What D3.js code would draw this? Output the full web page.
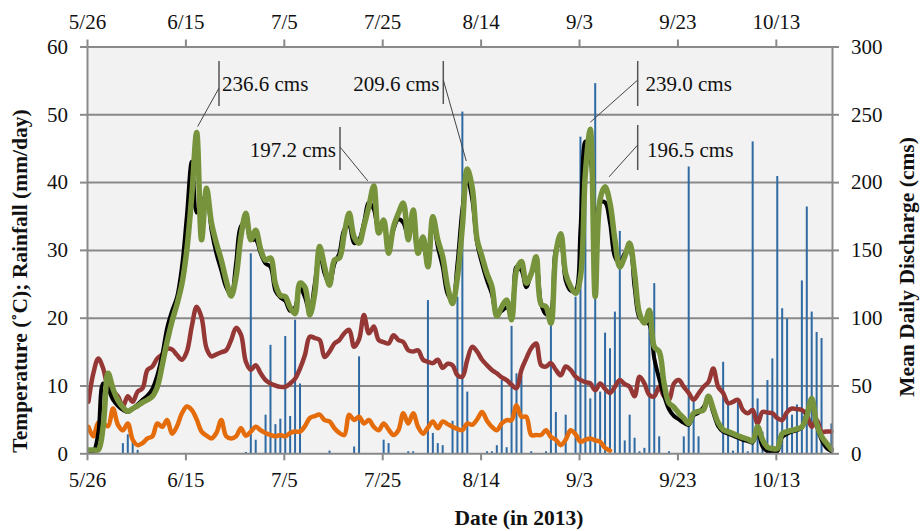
<!DOCTYPE html>
<html>
<head>
<meta charset="utf-8">
<script src="https://cdn.jsdelivr.net/npm/d3@7"></script>
<style>
  html, body { margin: 0; padding: 0; background: #ffffff; }
  svg { display: block; }
  text { font-family: "Liberation Serif", "Times New Roman", "DejaVu Serif", serif; fill: #111; }
</style>
</head>
<body>
<svg id="chart" width="920" height="531"></svg>
<script>
// ---- Data: daily series, 2013-05-26 .. 2013-10-24 ----
const startDay = "2013-05-26";
const dayCount = 152;

// Mean daily discharge, simulated (cms)
const dischargeSim = [
  2.5, 2.5, 2.5, 20, 59, 47.5, 39, 34, 31, 33,
  35, 37.5, 39.5, 42, 49, 65, 82.5, 97.5, 110, 125,
  150, 190, 236.6, 157.5, 195.5, 170, 155, 142.5, 127.5, 116,
  130, 160, 177, 157.5, 164.5, 150.5, 142.5, 144, 125, 116.5,
  115.5, 107.5, 103, 125.5, 122.5, 102, 118, 152.5, 137.5, 124,
  142.5, 144, 162, 177, 159.5, 155, 167.5, 182, 197.2, 162.5,
  172, 147.5, 167, 177, 184.5, 157.5, 179.5, 147.5, 159.5, 137.5,
  174.5, 157.5, 145, 123, 110.5, 130, 167, 209.6, 196, 157.5,
  145, 132.5, 123, 101, 108, 113, 98.5, 135, 141.5, 125.5,
  132.5, 145, 110, 108, 96, 147.5, 162, 132.5, 123, 118,
  130, 206.5, 239.0, 115.5, 187.5, 196.5, 184.5, 157.5, 137.5, 145,
  155, 132.5, 103, 96, 105.5, 78.5, 75, 51.5, 37, 34,
  29.5, 26, 22, 29.5, 31, 32, 42, 32.5, 22.5, 17.5,
  16, 14.5, 13, 11.5, 10.5, 9, 19.5, 10, 4.5, 3.5,
  3.5, 14.5, 16, 17, 18, 19.5, 27.5, 40.5, 22, 12.5,
  7.5, 3
];

// Mean daily discharge, observed (cms)
const dischargeObs = [
  1.5, 1.5, 15, 51.5, 47.5, 39.5, 35, 32, 30.5, 33,
  36, 39.5, 42.5, 47.5, 57.5, 72.5, 92.5, 105, 115, 137.5,
  175, 215, 177.5, 185, 190, 165, 147.5, 135, 122.5, 116.5,
  140, 167.5, 170, 157.5, 157.5, 147.5, 140, 137.5, 120, 115,
  112.5, 105, 107.5, 122.5, 115, 104, 125, 147.5, 132.5, 125,
  140, 147.5, 165, 167.5, 155, 157.5, 170, 185, 180, 165,
  167.5, 150, 165, 172.5, 170, 160, 170, 150, 152.5, 140,
  172.5, 152.5, 137.5, 117.5, 112.5, 140, 180, 202.5, 187.5, 155,
  140, 127.5, 117.5, 102.5, 105, 107.5, 105, 137.5, 135, 122.5,
  132.5, 137.5, 110, 102.5, 105, 150, 155, 127.5, 120, 120,
  165, 230, 220, 147.5, 185, 185, 170, 145, 140, 147.5,
  150, 122.5, 100, 97.5, 95, 70, 55, 42.5, 32.5, 27.5,
  25, 22.5, 21, 28, 30, 34, 40, 30, 20, 16,
  14.5, 13, 11.5, 10, 9, 8, 16, 5, 1.5, 1,
  1.5, 12, 14.5, 16, 17, 19, 30, 37.5, 21, 10,
  4, 1.5
];

// Daily temperature trace (°C) - dark red
const tempHigh = [
  7.6, 11.8, 14.0, 12.5, 9.8, 9.1, 8.4, 6.9, 8.4, 7.6,
  9.1, 9.6, 12.3, 12.8, 14.0, 14.6, 15.4, 15.3, 14.5, 13.8,
  15.0, 18.7, 21.6, 20.0, 15.5, 14.3, 14.6, 14.9, 15.2, 16.7,
  18.5, 17.5, 13.5, 12.3, 13.0, 11.8, 10.8, 10.3, 10.0, 9.8,
  9.8, 10.3, 11.0, 12.5, 14.5, 17.2, 17.0, 16.7, 14.2, 15.0,
  16.2, 16.7, 17.7, 18.2, 15.7, 16.8, 20.4, 17.7, 18.7, 16.7,
  16.4, 16.2, 17.4, 16.7, 16.4, 15.2, 15.0, 15.2, 13.8, 13.5,
  13.3, 13.8, 12.6, 13.2, 13.0, 11.5, 11.3, 13.8, 15.7, 15.0,
  13.8, 13.0, 12.3, 11.8, 11.2, 10.8, 10.1, 9.6, 12.3, 14.0,
  15.5, 16.2, 13.0, 12.8, 13.3, 12.3, 11.5, 12.8, 12.3, 11.3,
  10.8, 10.5, 10.3, 9.3, 10.3, 9.5, 8.9, 9.8, 10.8, 10.2,
  9.8, 8.4, 11.3, 10.3, 8.6, 8.4, 9.8, 8.4, 7.9, 10.3,
  10.8, 9.8, 8.9, 7.9, 8.8, 9.8, 10.5, 12.5, 9.8, 8.9,
  7.4, 7.6, 7.9, 6.4, 5.9, 6.4, 4.4, 6.1, 6.0, 5.9,
  5.2, 4.9, 6.1, 6.6, 6.5, 6.4, 5.7, 3.9, 4.9, 3.2,
  3.2, 3.2
];

// Second temperature trace (°C) - orange, ends 2013-09-09
const tempLow = [
  3.9, 2.5, 4.5, 4.4, 4.0, 6.6, 4.2, 3.4, 4.4, 2.0,
  1.2, 1.5, 2.2, 2.5, 4.4, 3.9, 4.9, 2.9, 4.0, 5.9,
  6.9, 6.4, 5.0, 3.2, 2.6, 2.2, 3.0, 4.9, 2.5, 2.2,
  2.5, 3.7, 2.6, 3.2, 3.9, 3.4, 3.0, 2.7, 2.5, 2.7,
  2.5, 3.0, 3.2, 3.2, 4.0, 5.2, 5.5, 5.7, 4.9, 4.7,
  3.7, 3.0, 2.7, 5.7, 4.9, 5.4, 4.4, 4.9, 3.9, 3.4,
  4.4, 3.5, 2.7, 3.4, 5.9, 4.4, 5.9, 3.9, 2.9, 3.8,
  4.7, 3.7, 4.7, 4.3, 3.9, 3.6, 3.4, 4.4, 4.2, 5.0,
  6.1, 4.8, 3.9, 3.4, 4.4, 4.9, 4.9, 7.1, 5.4, 5.4,
  2.7, 2.7, 2.7, 3.4, 2.4, 2.0, 1.2, 2.0, 3.4, 2.8,
  1.7, 2.0, 2.2, 1.9, 1.7, 0.8, 0.4
];

// Daily rainfall (mm/day), one entry per day
const rainfall = [
  0, 0, 0, 0, 0, 0, 0, 1.5, 2.8, 2.0,
  0.5, 0, 0, 0, 0, 0, 0, 0, 0, 0,
  0, 0, 0, 0, 0, 0, 0, 0, 0, 0,
  0, 0, 0.2, 29.5, 2.0, 0, 5.7, 16.0, 4.3, 5.1,
  17.3, 5.5, 19.7, 10.3, 0, 0, 0, 0, 0, 0.4,
  0, 0, 0, 0, 1.0, 14.3, 0, 0, 0, 0,
  2.0, 1.5, 0, 0, 0, 0.3, 0.3, 0, 0, 22.6,
  3.0, 1.5, 1.2, 0, 4.8, 23.1, 50.4, 9.1, 0, 0,
  0, 0.3, 0.3, 1.2, 10.8, 0.9, 18.8, 11.8, 11.4, 0,
  0.3, 0, 0, 0.3, 18.9, 6.1, 0, 5.7, 0, 23.1,
  46.7, 45.7, 8.1, 54.6, 9.1, 17.8, 15.5, 20.9, 32.8, 1.9,
  5.7, 2.3, 0.3, 0.8, 20.2, 25.1, 2.5, 0, 0.3, 0,
  0, 2.5, 42.3, 7.6, 2.5, 0, 0, 0, 0, 13.5,
  7.5, 0.4, 7.5, 2.5, 0.3, 46.0, 8.1, 3.2, 10.8, 14.0,
  40.9, 21.4, 19.9, 5.7, 7.2, 25.5, 36.4, 20.9, 17.9, 17.0,
  0, 4.4
];

// Axis tick values
const dateTicks = ["2013-05-26", "2013-06-15", "2013-07-05", "2013-07-25",
                   "2013-08-14", "2013-09-03", "2013-09-23", "2013-10-13"];
const leftTicks = [0, 10, 20, 30, 40, 50, 60];
const rightTicks = [0, 50, 100, 150, 200, 250, 300];

// Peak discharge callouts
const peakDates = ["2013-06-17", "2013-07-23", "2013-08-11", "2013-09-05", "2013-09-08"];
const peakValues = [236.6, 197.2, 209.6, 239.0, 196.5];

// ---- Layout ----
const plot = { left: 87, right: 832, top: 46.5, bottom: 453.3 };
const serif = "'Liberation Serif', 'Times New Roman', 'DejaVu Serif', serif";
const gridColor = "#898989";
const colors = {
  rain: "#2f6aa3",
  obs: "#000000",
  sim: "#77933c",
  high: "#953735",
  low: "#e46c0a"
};

const parse = d3.utcParse("%Y-%m-%d");
const day0 = parse(startDay);
const dates = d3.range(dayCount).map(i => d3.utcDay.offset(day0, i));

const x = d3.scaleUtc()
  .domain([day0, d3.utcHour.offset(parse("2013-10-24"), 10)])
  .range([plot.left, plot.right]);
// each daily value sits a little into its day
const px = d => x(d3.utcHour.offset(d, 7));

const yL = d3.scaleLinear().domain([0, 60]).range([plot.bottom, plot.top]);
const yR = d3.scaleLinear().domain([0, 300]).range([plot.bottom, plot.top]);

const svg = d3.select("#chart");

// plot background
svg.append("rect")
  .attr("x", plot.left).attr("y", plot.top)
  .attr("width", plot.right - plot.left)
  .attr("height", plot.bottom - plot.top)
  .attr("fill", "#f2f2f2");

// horizontal gridlines
svg.append("g")
  .attr("transform", `translate(${plot.left},0)`)
  .call(d3.axisLeft(yL).tickValues(leftTicks.slice(1, -1))
    .tickSize(-(plot.right - plot.left)).tickFormat(""))
  .call(g => g.select(".domain").remove())
  .call(g => g.selectAll("line").attr("stroke", gridColor).attr("stroke-width", 2));

svg.append("defs").append("clipPath").attr("id", "plotClip")
  .append("rect")
  .attr("x", plot.left).attr("y", plot.top - 20)
  .attr("width", plot.right - plot.left + 3)
  .attr("height", plot.bottom - plot.top + 20);

const marks = svg.append("g").attr("clip-path", "url(#plotClip)");

// rainfall bars
marks.append("g").selectAll("rect")
  .data(rainfall.map((v, i) => ({ d: dates[i], v })).filter(r => r.v > 0))
  .join("rect")
  .attr("x", r => px(r.d) - 1)
  .attr("width", 2)
  .attr("y", r => yL(r.v))
  .attr("height", r => yL(0) - yL(r.v))
  .attr("fill", colors.rain);

function drawLine(values, scale, color, width) {
  const line = d3.line()
    .x((v, i) => px(dates[i]))
    .y(v => scale(v))
    .curve(d3.curveCatmullRom.alpha(0.5));
  marks.append("path")
    .attr("d", line(values))
    .attr("fill", "none")
    .attr("stroke", color)
    .attr("stroke-width", width)
    .attr("stroke-linejoin", "round")
    .attr("stroke-linecap", "round");
}

drawLine(tempHigh, yL, colors.high, 4.5);
drawLine(tempLow, yL, colors.low, 4.5);
drawLine(dischargeObs, yR, colors.obs, 4);
drawLine(dischargeSim, yR, colors.sim, 5.5);

// ---- Axes ----
const fmt = d3.utcFormat("%-m/%-d");
const tickDates = dateTicks.map(parse);

function styleAxis(g) {
  g.attr("font-family", null).attr("font-size", null);
  g.select(".domain").attr("stroke", gridColor).attr("stroke-width", 2);
  g.selectAll(".tick line").attr("stroke", gridColor).attr("stroke-width", 2);
  g.selectAll(".tick text")
    .style("font-family", serif).style("font-size", "21px").attr("fill", "#111");
}

svg.append("g")
  .attr("transform", `translate(0,${plot.bottom})`)
  .call(d3.axisBottom(x).tickValues(tickDates).tickFormat(fmt)
    .tickSize(7).tickSizeOuter(0).tickPadding(12))
  .call(styleAxis);

svg.append("g")
  .attr("transform", `translate(0,${plot.top})`)
  .call(d3.axisTop(x).tickValues(tickDates).tickFormat(fmt)
    .tickSize(7).tickSizeOuter(0).tickPadding(11))
  .call(styleAxis);

svg.append("g")
  .attr("transform", `translate(${plot.left},0)`)
  .call(d3.axisLeft(yL).tickValues(leftTicks).tickSize(7).tickSizeOuter(0).tickPadding(12))
  .call(styleAxis);

svg.append("g")
  .attr("transform", `translate(${plot.right},0)`)
  .call(d3.axisRight(yR).tickValues(rightTicks).tickSize(7).tickSizeOuter(0).tickPadding(12))
  .call(styleAxis);

// ---- Axis titles ----
function title(sel) {
  return sel.attr("text-anchor", "middle")
    .style("font-family", serif).style("font-size", "21.5px").style("font-weight", "bold");
}

svg.append("text")
  .attr("transform", "translate(27,281) rotate(-90)")
  .call(title)
  .text("Temperature (˚C); Rainfall (mm/day)");

svg.append("text")
  .attr("transform", "translate(913.5,267) rotate(-90)")
  .call(title)
  .text("Mean Daily Discharge (cms)");

svg.append("text")
  .attr("x", 519).attr("y", 525)
  .call(title)
  .text("Date (in 2013)");

// ---- Peak callouts ----
// label box: marker bar x, bar top/bottom, text anchor side, text x, baseline,
// leader start y, leader end offset from the peak point
const calloutLayout = [
  { bx: 219,   y1: 61,  y2: 106, anchor: "start", tx: 222,   ty: 91,  ly: 88,  dx: 1,  dy: -6 },
  { bx: 340,   y1: 127, y2: 170, anchor: "end",   tx: 336,   ty: 157, ly: 147, dx: -6, dy: -5 },
  { bx: 443.3, y1: 61,  y2: 104, anchor: "end",   tx: 439.5, ty: 91,  ly: 80,  dx: -1, dy: -8 },
  { bx: 637.7, y1: 61,  y2: 106, anchor: "start", tx: 645.5, ty: 91,  ly: 80,  dx: 0,  dy: -7 },
  { bx: 637.7, y1: 125, y2: 170, anchor: "start", tx: 647,   ty: 157, ly: 145, dx: 4,  dy: -10 }
];

const callouts = svg.append("g");
peakValues.forEach((v, i) => {
  const L = calloutLayout[i];
  const pxPeak = px(parse(peakDates[i]));
  const pyPeak = yR(v);
  callouts.append("line")
    .attr("x1", L.bx).attr("x2", L.bx).attr("y1", L.y1).attr("y2", L.y2)
    .attr("stroke", "#555").attr("stroke-width", 1.5);
  callouts.append("line")
    .attr("x1", L.bx).attr("y1", L.ly)
    .attr("x2", pxPeak + L.dx).attr("y2", pyPeak + L.dy)
    .attr("stroke", "#444").attr("stroke-width", 1);
  callouts.append("text")
    .attr("x", L.tx).attr("y", L.ty)
    .attr("text-anchor", L.anchor)
    .style("font-family", serif).style("font-size", "21px")
    .text(`${v.toFixed(1)} cms`);
});
</script>
</body>
</html>
